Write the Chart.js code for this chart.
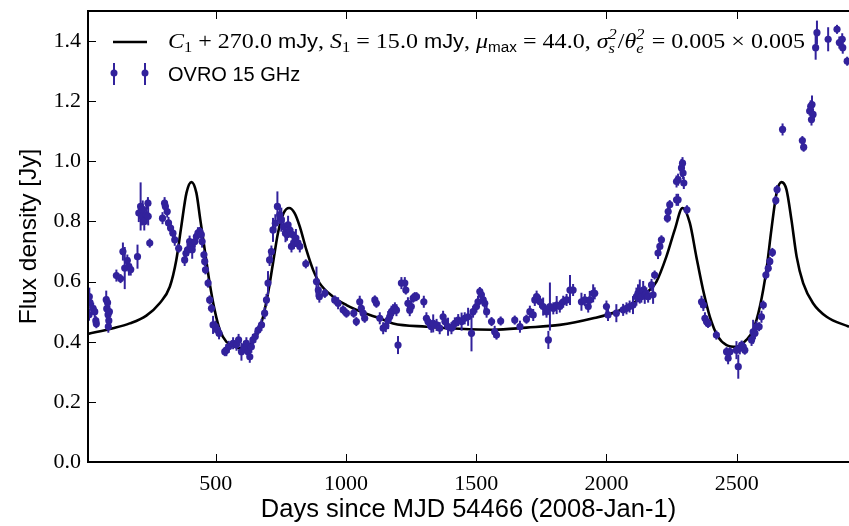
<!DOCTYPE html>
<html>
<head>
<meta charset="utf-8">
<script src="https://cdn.jsdelivr.net/npm/chart.js@4.4.0/dist/chart.umd.min.js"></script>
<style>
  html, body { margin: 0; padding: 0; background: #fff; }
  #wrap { width: 849px; height: 526px; }
</style>
</head>
<body>
<div id="wrap"><canvas id="lightcurve" width="849" height="526"></canvas></div>
<script>
// OVRO 15 GHz Beobachtungen (Tage seit MJD 54466, Fluss in Jy, Fehler in Jy)
const obsDays = [
  14, 15, 18, 30, 36, 40, 42, 80, 82, 85, 87, 88, 90, 92, 119, 135, 144, 151, 161, 167, 174,
  200, 205, 212, 217, 220, 226, 234, 240, 241, 247,
  296, 304, 307, 314, 319, 327, 336, 343, 358, 381, 386, 392, 400, 405, 410, 420, 426, 432,
  439, 445, 448, 455, 458, 461, 471, 477, 484, 490, 499, 506, 513,
  535, 541, 550, 567, 580, 588, 599, 609, 618, 624, 631, 637, 643, 652, 663, 676, 688, 695,
  701, 707, 714, 720, 729, 737, 746, 752,
  761, 768, 774, 778, 784, 791, 795, 800, 808, 816, 823, 846, 887, 894, 898, 919, 957, 970,
  989, 1002, 1030, 1040, 1053, 1059, 1066, 1072, 1111, 1117,
  1130, 1143, 1153, 1162, 1168, 1175, 1181, 1188, 1194, 1200, 1213, 1226, 1230, 1238, 1245,
  1251, 1258, 1264, 1271, 1299, 1309, 1315, 1328, 1335, 1348, 1360, 1373, 1380, 1392, 1405,
  1418, 1431, 1444, 1456, 1469, 1482, 1488, 1501, 1507,
  1514, 1520, 1527, 1533, 1540, 1559, 1571, 1578, 1594, 1648, 1668, 1693, 1706, 1719, 1725,
  1732, 1745, 1757, 1770, 1777, 1783, 1796, 1809, 1821, 1834, 1847, 1860, 1872, 1904, 1917,
  1930, 1936, 1949, 1955,
  2000, 2006, 2038, 2064, 2077, 2089, 2102, 2115, 2121, 2128, 2134, 2141, 2147, 2153, 2160,
  2173, 2179, 2185, 2198, 2205, 2211, 2234, 2237, 2243, 2269, 2269, 2275, 2275, 2288, 2292,
  2294, 2297, 2309,
  2365, 2372, 2378, 2384, 2390, 2422, 2461, 2467, 2474, 2499, 2506, 2512, 2519, 2525, 2531,
  2557, 2563, 2570, 2576, 2586, 2595, 2602, 2612, 2621, 2627, 2637, 2650, 2655,
  2676, 2752, 2757, 2780, 2784, 2787, 2789, 2793, 2803, 2808, 2851, 2885, 2894, 2905, 2907, 2924
];
const obsFlux = [
  0.49, 0.55, 0.53, 0.51, 0.50, 0.47, 0.46, 0.54, 0.51, 0.53, 0.49, 0.45, 0.47, 0.50, 0.62, 0.61, 0.70, 0.645, 0.67, 0.65, 0.64,
  0.683, 0.828, 0.85, 0.817, 0.84, 0.80, 0.822, 0.861, 0.817, 0.728,
  0.811, 0.861, 0.85, 0.833, 0.795, 0.778, 0.761, 0.739, 0.711, 0.672, 0.694, 0.706, 0.733, 0.717, 0.706, 0.733, 0.75, 0.761,
  0.767, 0.756, 0.733, 0.689, 0.667, 0.639, 0.595, 0.539, 0.511, 0.456, 0.45, 0.44, 0.428,
  0.367, 0.372, 0.383, 0.395, 0.39, 0.406, 0.367, 0.383, 0.395, 0.367, 0.35, 0.383, 0.406, 0.417, 0.439, 0.456, 0.495, 0.539,
  0.595, 0.672, 0.70, 0.772, 0.794, 0.85, 0.822, 0.806,
  0.783, 0.761, 0.756, 0.789, 0.772, 0.717, 0.756, 0.728, 0.745, 0.728, 0.717, 0.659, 0.60, 0.572, 0.55, 0.561, 0.539, 0.528,
  0.506, 0.495, 0.495, 0.467, 0.533, 0.511, 0.495, 0.478, 0.539, 0.528,
  0.478, 0.445, 0.452, 0.472, 0.483, 0.50, 0.505, 0.511, 0.505, 0.389, 0.595, 0.595, 0.572, 0.528, 0.505,
  0.517, 0.545, 0.55, 0.55, 0.533, 0.478, 0.467, 0.45, 0.461, 0.456, 0.445, 0.483, 0.467, 0.45, 0.445,
  0.461, 0.472, 0.467, 0.478, 0.483, 0.428, 0.50, 0.517, 0.533,
  0.567, 0.556, 0.539, 0.528, 0.50, 0.467, 0.433, 0.422, 0.469, 0.472, 0.45, 0.475, 0.50, 0.489, 0.539,
  0.55, 0.533, 0.517, 0.50, 0.406, 0.517, 0.511, 0.522, 0.517, 0.533, 0.539, 0.572, 0.572, 0.533, 0.539,
  0.517, 0.539, 0.561, 0.561,
  0.517, 0.489, 0.495, 0.506, 0.511, 0.517, 0.522, 0.55, 0.561, 0.567, 0.55, 0.572, 0.556, 0.561, 0.55,
  0.589, 0.556, 0.622, 0.695, 0.717, 0.739, 0.811, 0.833, 0.856, 0.872, 0.933, 0.939, 0.872, 0.978, 0.994,
  0.961, 0.928, 0.839,
  0.533, 0.522, 0.478, 0.467, 0.461, 0.422, 0.367, 0.345, 0.367, 0.372, 0.317, 0.378, 0.389, 0.383, 0.372,
  0.406, 0.433, 0.428, 0.45, 0.45, 0.483, 0.522, 0.622, 0.644, 0.667, 0.697, 0.87, 0.906,
  1.106, 1.069, 1.047, 1.167, 1.183, 1.139, 1.189, 1.156, 1.378, 1.428, 1.406, 1.439, 1.395, 1.406, 1.378, 1.333
];
const obsErr = [
  0.02, 0.03, 0.02, 0.02, 0.02, 0.015, 0.015, 0.03, 0.03, 0.02, 0.03, 0.02, 0.02, 0.02, 0.02, 0.015, 0.03, 0.07, 0.02, 0.03, 0.02,
  0.04, 0.03, 0.08, 0.03, 0.03, 0.03, 0.03, 0.02, 0.03, 0.015,
  0.02, 0.02, 0.02, 0.02, 0.02, 0.02, 0.02, 0.02, 0.015, 0.02, 0.02, 0.02, 0.02, 0.02, 0.03, 0.02, 0.02, 0.02,
  0.015, 0.02, 0.02, 0.015, 0.015, 0.015, 0.015, 0.015, 0.015, 0.03, 0.02, 0.02, 0.02,
  0.015, 0.02, 0.02, 0.02, 0.02, 0.02, 0.03, 0.02, 0.02, 0.02, 0.02, 0.02, 0.02, 0.02, 0.015, 0.02, 0.02, 0.02,
  0.04, 0.02, 0.02, 0.04, 0.03, 0.05, 0.03, 0.04,
  0.03, 0.03, 0.02, 0.03, 0.02, 0.02, 0.02, 0.02, 0.03, 0.02, 0.02, 0.015, 0.05, 0.02, 0.02, 0.015, 0.015, 0.02,
  0.015, 0.015, 0.015, 0.015, 0.02, 0.015, 0.02, 0.015, 0.015, 0.015,
  0.02, 0.02, 0.02, 0.03, 0.02, 0.02, 0.02, 0.02, 0.02, 0.03, 0.02, 0.02, 0.015, 0.02, 0.02,
  0.02, 0.015, 0.015, 0.015, 0.02, 0.02, 0.02, 0.02, 0.03, 0.02, 0.02, 0.02, 0.02, 0.03, 0.02,
  0.02, 0.02, 0.03, 0.02, 0.03, 0.06, 0.02, 0.02, 0.02,
  0.015, 0.02, 0.02, 0.02, 0.02, 0.015, 0.02, 0.015, 0.015, 0.015, 0.02, 0.015, 0.02, 0.02, 0.02,
  0.02, 0.02, 0.03, 0.02, 0.03, 0.08, 0.02, 0.03, 0.02, 0.02, 0.02, 0.05, 0.02, 0.03, 0.02,
  0.02, 0.03, 0.03, 0.02,
  0.02, 0.02, 0.03, 0.02, 0.02, 0.02, 0.03, 0.03, 0.03, 0.04, 0.02, 0.03, 0.03, 0.02, 0.02,
  0.02, 0.03, 0.015, 0.02, 0.015, 0.015, 0.015, 0.02, 0.015, 0.02, 0.02, 0.02, 0.02, 0.03, 0.02,
  0.02, 0.02, 0.015,
  0.02, 0.02, 0.02, 0.015, 0.015, 0.015, 0.015, 0.02, 0.015, 0.03, 0.04, 0.02, 0.015, 0.015, 0.015,
  0.02, 0.04, 0.02, 0.02, 0.015, 0.02, 0.015, 0.015, 0.015, 0.015, 0.015, 0.015, 0.015,
  0.02, 0.015, 0.015, 0.015, 0.02, 0.02, 0.03, 0.02, 0.04, 0.04, 0.04, 0.015, 0.02, 0.02, 0.02, 0.015
];

// Modellkurve
const modelDays = [
  10, 106, 170, 234, 285, 324, 349, 368, 388, 407, 426, 441, 458, 477, 496, 516, 541, 580, 600, 618,
  656, 682, 701, 720, 739, 761, 782, 803, 823, 848, 874, 899, 950, 1002, 1066, 1130, 1181, 1309,
  1437, 1565, 1693, 1821, 1949, 2038, 2102, 2166, 2192, 2230, 2262, 2292, 2320, 2345, 2371, 2397,
  2428, 2461, 2499, 2537, 2563, 2589, 2614, 2633, 2653, 2672, 2691, 2710, 2730, 2755, 2793, 2845, 2931
];
const modelFlux = [
  0.426, 0.445, 0.461, 0.487, 0.528, 0.583, 0.672, 0.783, 0.895, 0.931, 0.895, 0.806, 0.706, 0.595, 0.506, 0.439, 0.40, 0.381, 0.378, 0.381,
  0.417, 0.483, 0.561, 0.661, 0.761, 0.828, 0.845, 0.828, 0.783, 0.706, 0.639, 0.595, 0.55, 0.522, 0.497, 0.478, 0.461, 0.45,
  0.443, 0.44, 0.447, 0.456, 0.478, 0.50, 0.528, 0.572, 0.60, 0.683, 0.772, 0.845, 0.795, 0.683, 0.572, 0.483,
  0.417, 0.389, 0.383, 0.406, 0.439, 0.517, 0.639, 0.772, 0.895, 0.931, 0.906, 0.806, 0.683, 0.595, 0.528, 0.483, 0.45
];

const xTickValues = [500, 1000, 1500, 2000, 2500];
const yTickValues = [0.0, 0.2, 0.4, 0.6, 0.8, 1.0, 1.2, 1.4];
const xRange = [10, 2931];
const yRange = [0, 1.5];

const markerColor = 'rgb(50, 34, 156)';
const serifFamily = '"Liberation Serif", "DejaVu Serif", serif';
const sansFamily = '"Liberation Sans", "DejaVu Sans", sans-serif';

// Fehlerbalken unter die Punkte zeichnen
const errorBarPlugin = {
  id: 'errorBars',
  afterDatasetDraw(chart, args) {
    if (args.index !== 1) return;
    const {ctx, scales: {x, y}, chartArea} = chart;
    ctx.save();
    ctx.beginPath();
    ctx.rect(chartArea.left, chartArea.top, chartArea.right - chartArea.left, chartArea.bottom - chartArea.top);
    ctx.clip();
    ctx.strokeStyle = markerColor;
    ctx.lineWidth = 2;
    obsDays.forEach((d, i) => {
      const px = x.getPixelForValue(d);
      ctx.beginPath();
      ctx.moveTo(px, y.getPixelForValue(obsFlux[i] - obsErr[i]));
      ctx.lineTo(px, y.getPixelForValue(obsFlux[i] + obsErr[i]));
      ctx.stroke();
    });
    ctx.restore();
  }
};

// Rahmen und nach innen zeigende Ticks
const framePlugin = {
  id: 'frame',
  afterDraw(chart) {
    const {ctx, chartArea: a, scales: {x, y}} = chart;
    ctx.save();
    ctx.strokeStyle = '#000';
    ctx.lineWidth = 1;
    xTickValues.forEach(v => {
      const px = Math.round(x.getPixelForValue(v)) + 0.5;
      ctx.beginPath();
      ctx.moveTo(px, a.bottom); ctx.lineTo(px, a.bottom - 8);
      ctx.moveTo(px, a.top); ctx.lineTo(px, a.top + 8);
      ctx.stroke();
    });
    yTickValues.forEach(v => {
      const py = Math.round(y.getPixelForValue(v)) + 0.5;
      ctx.beginPath();
      ctx.moveTo(a.left, py); ctx.lineTo(a.left + 8, py);
      ctx.stroke();
    });
    ctx.lineWidth = 2;
    ctx.beginPath();
    ctx.moveTo(a.right + 2, a.top);
    ctx.lineTo(a.left, a.top);
    ctx.lineTo(a.left, a.bottom);
    ctx.lineTo(a.right + 2, a.bottom);
    ctx.stroke();
    ctx.restore();
  }
};

function drawRuns(ctx, x, y, runs, draw) {
  runs.forEach(r => {
    ctx.font = r.font;
    if (r.stack) {
      if (draw) {
        ctx.fillText(r.stack[0], x, y - 9);
        ctx.fillText(r.stack[1], x, y + 5);
      }
      x += Math.max(ctx.measureText(r.stack[0]).width, ctx.measureText(r.stack[1]).width) + 1;
    } else {
      if (draw) ctx.fillText(r.text, x, y + (r.dy || 0));
      x += ctx.measureText(r.text).width;
    }
  });
  return x;
}

// Legende mit Formeltext
const legendPlugin = {
  id: 'mathLegend',
  afterDraw(chart) {
    const {ctx, chartArea: a} = chart;
    const big = 'italic 22px ' + serifFamily;
    const rm = '22px ' + serifFamily;
    const small = '15px ' + serifFamily;
    const smallIt = 'italic 15px ' + serifFamily;
    const sans = '20px ' + sansFamily;
    const sansSmall = '14px ' + sansFamily;
    const runs = [
      {text: 'C', font: big}, {text: '1', font: small, dy: 4},
      {text: ' + 270.0 ', font: rm}, {text: 'mJy', font: sans}, {text: ', ', font: rm},
      {text: 'S', font: big}, {text: '1', font: small, dy: 4},
      {text: ' = 15.0 ', font: rm}, {text: 'mJy', font: sans}, {text: ', ', font: rm},
      {text: 'μ', font: big}, {text: 'max', font: sansSmall, dy: 4},
      {text: ' = 44.0, ', font: rm},
      {text: 'σ', font: big}, {stack: ['2', 's'], font: smallIt},
      {text: '/', font: rm},
      {text: 'θ', font: big}, {stack: ['2', 'e'], font: smallIt},
      {text: ' = 0.005 × 0.005', font: rm}
    ];
    ctx.save();
    ctx.fillStyle = '#000';
    ctx.textBaseline = 'alphabetic';
    const x0 = a.left + 80;
    ctx.strokeStyle = '#000';
    ctx.lineWidth = 2.6;
    ctx.beginPath();
    ctx.moveTo(a.left + 25, 42); ctx.lineTo(a.left + 59, 42);
    ctx.stroke();

    // Formel auf die Breite im Original strecken
    const natural = drawRuns(ctx, 0, 0, runs, false);
    ctx.save();
    ctx.translate(x0, 0);
    ctx.scale(637 / natural, 1);
    drawRuns(ctx, 0, 48, runs, true);
    ctx.restore();

    ctx.strokeStyle = markerColor;
    ctx.fillStyle = markerColor;
    ctx.lineWidth = 2;
    [a.left + 26, a.left + 57].forEach(px => {
      ctx.beginPath();
      ctx.moveTo(px, 63); ctx.lineTo(px, 85);
      ctx.stroke();
      ctx.beginPath();
      ctx.arc(px, 73, 3.5, 0, Math.PI * 2);
      ctx.fill();
    });
    ctx.fillStyle = '#000';
    ctx.font = sans;
    ctx.fillText('OVRO 15 GHz', x0, 81);
    ctx.restore();
  }
};

const ctx = document.getElementById('lightcurve').getContext('2d');
const chart = new Chart(ctx, {
  type: 'scatter',
  data: {
    datasets: [{
      label: 'OVRO 15 GHz',
      data: obsDays.map((d, i) => ({x: d, y: obsFlux[i]})),
      pointRadius: 3.6,
      pointBackgroundColor: markerColor,
      pointBorderColor: markerColor,
      pointBorderWidth: 0,
      showLine: false
    }, {
      label: 'Modell',
      data: modelDays.map((d, i) => ({x: d, y: modelFlux[i]})),
      showLine: true,
      borderColor: '#000',
      borderWidth: 2.6,
      pointRadius: 0,
      cubicInterpolationMode: 'monotone',
      fill: false
    }]
  },
  options: {
    responsive: false,
    animation: false,
    devicePixelRatio: 1,
    layout: {autoPadding: false, padding: {top: 11, right: 0, left: 0, bottom: 0}},
    plugins: {
      legend: {display: false},
      tooltip: {enabled: false}
    },
    scales: {
      x: {
        type: 'linear',
        min: xRange[0],
        max: xRange[1],
        grid: {display: false, drawTicks: false},
        border: {display: false},
        afterBuildTicks: s => { s.ticks = xTickValues.map(v => ({value: v})); },
        afterFit: s => { s.height = 64; s.paddingLeft = 0; s.paddingRight = 0; },
        ticks: {
          padding: 9,
          color: '#000',
          font: {family: serifFamily, size: 22},
          callback: v => String(v)
        },
        title: {
          display: true,
          text: 'Days since MJD 54466 (2008-Jan-1)',
          color: '#000',
          font: {family: sansFamily, size: 25.5},
          padding: {top: 0, bottom: 1}
        }
      },
      y: {
        type: 'linear',
        min: yRange[0],
        max: yRange[1],
        grid: {display: false, drawTicks: false},
        border: {display: false},
        afterBuildTicks: s => { s.ticks = yTickValues.map(v => ({value: v})); },
        afterFit: s => { s.width = 88; s.paddingTop = 0; s.paddingBottom = 0; },
        ticks: {
          padding: 7,
          color: '#000',
          font: {family: serifFamily, size: 22},
          callback: v => Number(v).toFixed(1)
        },
        title: {
          display: true,
          text: 'Flux density [Jy]',
          color: '#000',
          font: {family: sansFamily, size: 24.5},
          padding: {top: 15, bottom: 0}
        }
      }
    }
  },
  plugins: [errorBarPlugin, framePlugin, legendPlugin]
});
</script>
</body>
</html>
